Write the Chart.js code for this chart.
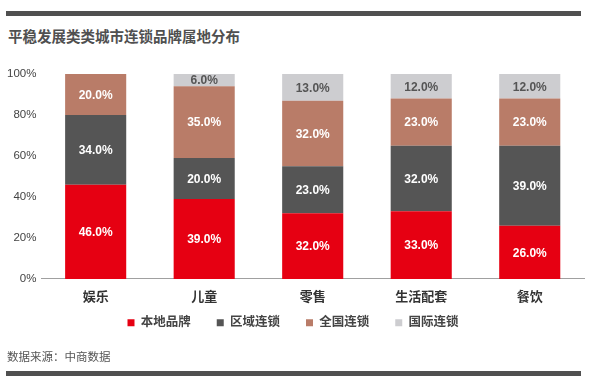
<!DOCTYPE html>
<html>
<head>
<meta charset="utf-8">
<script src="https://cdn.jsdelivr.net/npm/chart.js@4"></script>
<style>
  body { margin: 0; background: #fff; }
  #wrap { position: relative; width: 591px; height: 388px; overflow: hidden; }
  .rule { position: absolute; left: 6px; width: 575px; height: 5px; background: #505050; }
  #title { position: absolute; left: 8px; top: 26px; font: bold 14.5px "Noto Sans CJK SC", sans-serif; color: #505050; line-height: 20px; }
  #source { position: absolute; left: 7px; top: 347px; font: 11.5px "Noto Sans CJK SC", sans-serif; color: #555; line-height: 18px; }
  #chart { position: absolute; left: 0; top: 0; }
</style>
</head>
<body>
<div id="wrap">
  <div class="rule" style="top:11px"></div>
  <div id="title">平稳发展类类城市连锁品牌属地分布</div>
  <canvas id="chart" width="591" height="371"></canvas>
  <div id="source">数据来源：中商数据</div>
  <div class="rule" style="top:371px"></div>
</div>
<script>
const categories = ['娱乐', '儿童', '零售', '生活配套', '餐饮'];
const local_brand = [46, 39, 32, 33, 26];
const regional_chain = [34, 20, 23, 32, 39];
const national_chain = [20, 35, 32, 23, 23];
const intl_chain = [0, 6, 13, 12, 12];
const y_ticks = [0, 20, 40, 60, 80, 100];

const font_family = '"Liberation Sans", "Noto Sans CJK SC", sans-serif';

// draws the value text in the middle of every stacked segment
const seg_labels = {
  id: 'seg_labels',
  afterDatasetsDraw(chart) {
    const ctx = chart.ctx;
    ctx.save();
    ctx.textAlign = 'center';
    ctx.textBaseline = 'middle';
    ctx.font = 'bold 12px ' + font_family;
    chart.data.datasets.forEach(function(ds, i) {
      const meta = chart.getDatasetMeta(i);
      meta.data.forEach(function(bar, j) {
        const v = ds.data[j];
        if (!v) return;
        ctx.fillStyle = ds.labelColor;
        ctx.fillText(v.toFixed(1) + '%', bar.x, (bar.y + bar.base) / 2 + 1);
      });
    });
    ctx.restore();
  }
};

// legend keeps its wide item spacing but sits closer to the axis labels
const legend_shift = {
  id: 'legend_shift',
  afterLayout(chart) {
    chart.legend.top -= 26;
    chart.legend.bottom -= 26;
  }
};

const data = {
  labels: categories,
  datasets: [
    { label: '本地品牌', data: local_brand, backgroundColor: '#e60012', labelColor: '#fff' },
    { label: '区域连锁', data: regional_chain, backgroundColor: '#555555', labelColor: '#fff' },
    { label: '全国连锁', data: national_chain, backgroundColor: '#b97c68', labelColor: '#fff' },
    { label: '国际连锁', data: intl_chain, backgroundColor: '#cdcdd0', labelColor: '#555' }
  ]
};

const config = {
  type: 'bar',
  data,
  options: {
    responsive: false,
    animation: false,
    events: [],
    layout: { padding: { left: 2, right: 7, top: 74, bottom: 6 } },
    datasets: { bar: { categoryPercentage: 1, barPercentage: 0.563, borderWidth: 0 } },
    scales: {
      x: {
        stacked: true,
        grid: { display: false, drawTicks: false },
        border: { color: '#a0a0a0', width: 1 },
        ticks: { color: '#333', padding: 11, font: { family: font_family, size: 13, weight: 'bold' } }
      },
      y: {
        stacked: true,
        min: 0,
        max: 100,
        afterBuildTicks(scale) { scale.ticks = y_ticks.map(v => ({ value: v })); },
        grid: { display: false, drawTicks: false },
        border: { display: false },
        ticks: {
          color: '#444',
          padding: 5,
          font: { family: font_family, size: 11.5 },
          callback: v => v + '%'
        }
      }
    },
    plugins: {
      tooltip: { enabled: false },
      legend: {
        position: 'bottom',
        labels: {
          boxWidth: 7,
          boxHeight: 7,
          padding: 26,
          color: '#444',
          font: { family: font_family, size: 12.5, weight: 'bold' }
        }
      }
    }
  },
  plugins: [seg_labels, legend_shift]
};

new Chart(document.getElementById('chart').getContext('2d'), config);
</script>
</body>
</html>
